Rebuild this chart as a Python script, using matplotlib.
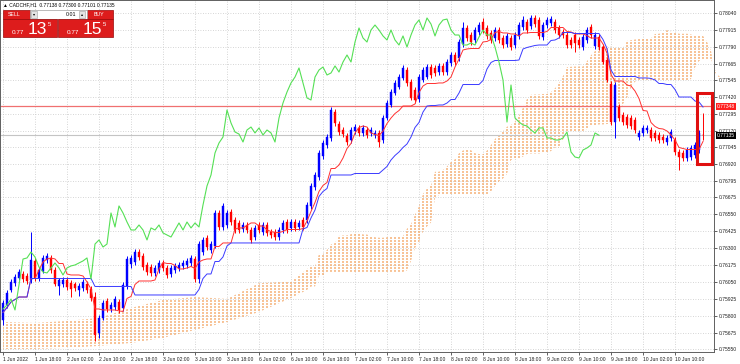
import numpy as np
import pandas as pd
import matplotlib
matplotlib.use('Agg')
import matplotlib.pyplot as plt
from matplotlib.patches import Rectangle

plt.rcParams['font.family'] = ['Liberation Sans', 'DejaVu Sans']

# CADCHF H1 candles, prices in points (1e-5)
open_pts = [
    75768, 75879, 75990, 76042, 76079, 76108, 76094, 76064, 76205, 76079,
    76131, 76212, 76227, 76138, 76020, 76034, 76064, 76042, 76034, 75990,
    76005, 76034, 75997, 75938, 75672, 75783, 75909, 75849, 75864, 75901,
    75857, 76020, 76182, 76197, 76271, 76242, 76175, 76160, 76116, 76138,
    76190, 76153, 76108, 76138, 76153, 76168, 76175, 76190, 76219, 76071,
    76271, 76375, 76286, 76316, 76560, 76456, 76471, 76567, 76508, 76486,
    76441, 76471, 76434, 76382, 76471, 76419, 76471, 76419, 76419, 76382,
    76434, 76493, 76449, 76493, 76456, 76508, 76508, 76612, 76752, 76826,
    76982, 77063, 77115, 77307, 77218, 77174, 77130, 77100, 77167, 77189,
    77152, 77174, 77152, 77137, 77152, 77100, 77263, 77359, 77448, 77492,
    77559, 77618, 77529, 77470, 77403, 77544, 77566, 77640, 77633, 77603,
    77648, 77603, 77670, 77729, 77707, 77810, 77929, 77877, 77840, 77899,
    77973, 77929, 77892, 77855, 77914, 77855, 77810, 77855, 77803, 77870,
    77936, 77973, 77944, 78003, 77988, 77862, 77951, 77966, 77973, 77929,
    77899, 77877, 77840, 77877, 77840, 77788, 77840, 77936, 77796, 77862,
    77788, 77692, 77514, 77233, 77344, 77285, 77270, 77263, 77248, 77122,
    77152, 77174, 77174, 77152, 77137, 77122, 77085, 77115, 77100, 77011,
    77004, 76967, 76974, 76989, 77026, 77138]
high_pts = [
    75916, 75990, 76071, 76108, 76145, 76131, 76116, 76419, 76227, 76160,
    76249, 76264, 76249, 76160, 76079, 76086, 76086, 76064, 76049, 76042,
    76071, 76057, 76020, 75975, 75805, 75916, 75931, 75901, 75946, 75923,
    76049, 76242, 76249, 76293, 76293, 76264, 76197, 76182, 76175, 76212,
    76212, 76175, 76175, 76190, 76197, 76212, 76227, 76249, 76242, 76353,
    76382, 76397, 76353, 76582, 76582, 76634, 76582, 76589, 76530, 76508,
    76493, 76493, 76456, 76471, 76493, 76493, 76493, 76441, 76441, 76456,
    76508, 76515, 76515, 76515, 76508, 76530, 76641, 76782, 76863, 77026,
    77100, 77144, 77344, 77329, 77241, 77196, 77152, 77196, 77218, 77211,
    77211, 77196, 77196, 77174, 77174, 77285, 77396, 77477, 77544, 77588,
    77655, 77640, 77551, 77492, 77588, 77640, 77662, 77662, 77655, 77670,
    77670, 77699, 77751, 77751, 77847, 77973, 77951, 77899, 77936, 77973,
    78003, 77951, 77914, 77936, 77936, 77877, 77892, 77877, 77899, 77973,
    78018, 77995, 78025, 78025, 78010, 77973, 78010, 78018, 77995, 77951,
    77921, 77899, 77862, 77899, 77862, 77884, 77936, 77958, 77899, 77884,
    77810, 77714, 77537, 77529, 77366, 77307, 77292, 77285, 77270, 77174,
    77211, 77211, 77196, 77174, 77159, 77144, 77137, 77181, 77122, 77033,
    77026, 77048, 77063, 77085, 77174, 77300]
low_pts = [
    75731, 75857, 75975, 76020, 76064, 76049, 76034, 76042, 76057, 76057,
    76116, 76190, 76116, 76020, 75953, 76012, 75990, 75938, 75983, 75946,
    75983, 75968, 75909, 75613, 75635, 75768, 75827, 75827, 75842, 75820,
    75835, 75997, 76153, 76175, 76212, 76138, 76101, 76094, 76094, 76116,
    76131, 76079, 76086, 76116, 76131, 76145, 76153, 76168, 76049, 76042,
    76249, 76286, 76264, 76301, 76434, 76434, 76449, 76471, 76412, 76412,
    76419, 76412, 76338, 76360, 76412, 76397, 76390, 76375, 76360, 76360,
    76412, 76412, 76427, 76427, 76434, 76434, 76486, 76589, 76730, 76804,
    76959, 77041, 77093, 77204, 77137, 77122, 77063, 77078, 77144, 77130,
    77130, 77115, 77130, 77115, 77048, 77078, 77248, 77344, 77433, 77477,
    77544, 77500, 77396, 77374, 77381, 77529, 77551, 77559, 77574, 77581,
    77581, 77581, 77648, 77655, 77685, 77788, 77833, 77803, 77818, 77877,
    77892, 77847, 77818, 77833, 77818, 77781, 77788, 77766, 77781, 77847,
    77914, 77892, 77921, 77936, 77847, 77840, 77929, 77944, 77892, 77855,
    77855, 77781, 77781, 77751, 77781, 77766, 77818, 77855, 77773, 77766,
    77662, 77529, 77211, 77115, 77241, 77211, 77189, 77181, 77152, 77100,
    77130, 77152, 77093, 77093, 77078, 77078, 77063, 77093, 76989, 76878,
    76945, 76945, 76952, 76967, 77004, 77101]
close_pts = [
    75894, 75968, 76049, 76086, 76123, 76071, 76057, 76212, 76079, 76138,
    76227, 76242, 76138, 76034, 76064, 76064, 76012, 75997, 76005, 76020,
    76049, 75990, 75931, 75657, 75783, 75894, 75849, 75879, 75923, 75842,
    76027, 76219, 76227, 76271, 76234, 76160, 76123, 76116, 76153, 76190,
    76153, 76101, 76153, 76168, 76175, 76190, 76205, 76227, 76071, 76330,
    76360, 76308, 76330, 76560, 76456, 76612, 76560, 76493, 76434, 76434,
    76471, 76434, 76360, 76449, 76434, 76471, 76412, 76397, 76382, 76434,
    76486, 76434, 76493, 76449, 76486, 76456, 76619, 76760, 76841, 77004,
    77078, 77122, 77322, 77226, 77159, 77144, 77085, 77174, 77196, 77152,
    77189, 77137, 77174, 77152, 77085, 77263, 77374, 77455, 77522, 77566,
    77633, 77522, 77411, 77396, 77566, 77618, 77640, 77581, 77596, 77648,
    77603, 77677, 77729, 77677, 77825, 77929, 77855, 77825, 77914, 77951,
    77914, 77870, 77840, 77914, 77840, 77803, 77870, 77788, 77877, 77951,
    77988, 77914, 78003, 77958, 77870, 77951, 77988, 77995, 77914, 77877,
    77877, 77803, 77803, 77818, 77803, 77862, 77914, 77877, 77877, 77788,
    77677, 77544, 77233, 77507, 77263, 77233, 77211, 77204, 77174, 77152,
    77189, 77189, 77115, 77115, 77100, 77100, 77115, 77159, 77011, 76974,
    76967, 77026, 77041, 77063, 77152, 77135]

# cloud edges on the left, where the history behind the 52-bar window is off screen
cloud_early_idx = [0, 8, 16, 24, 32, 40, 48, 56, 64, 72, 76]
cloud_early_a = [75753, 75746, 75761, 75783, 75857, 75916, 75938, 75924, 76040, 76053, 76144]
cloud_early_b = [75553, 75553, 75561, 75576, 75598, 75635, 75694, 75753, 75827, 75931, 75990]

time_labels = ['1 Jun 2022', '1 Jun 18:00', '2 Jun 02:00', '2 Jun 10:00', '2 Jun 18:00',
               '3 Jun 02:00', '3 Jun 10:00', '3 Jun 18:00', '6 Jun 02:00', '6 Jun 10:00',
               '6 Jun 18:00', '7 Jun 02:00', '7 Jun 10:00', '7 Jun 18:00', '8 Jun 02:00',
               '8 Jun 10:00', '8 Jun 18:00', '9 Jun 02:00', '9 Jun 10:00', '9 Jun 18:00',
               '10 Jun 02:00', '10 Jun 10:00']
price_ticks = [0.78040, 0.77915, 0.77790, 0.77665, 0.77545, 0.77420, 0.77295, 0.77170,
               0.77045, 0.76920, 0.76795, 0.76675, 0.76550, 0.76425, 0.76300, 0.76175,
               0.76050, 0.75925, 0.75800, 0.75675, 0.75550]
alert_price = 0.77348
bid, ask = 0.77135, 0.77155
box_top, box_bottom = 0.77448, 0.76922

o = np.array(open_pts) / 1e5
h = np.array(high_pts) / 1e5
l = np.array(low_pts) / 1e5
c = np.array(close_pts) / 1e5
n = len(c)
idx = np.arange(n)

# ichimoku 9/26/52
hs, ls = pd.Series(h), pd.Series(l)
tenkan = ((hs.rolling(9, min_periods=1).max() + ls.rolling(9, min_periods=1).min()) / 2).values
kijun = ((hs.rolling(26, min_periods=1).max() + ls.rolling(26, min_periods=1).min()) / 2).values
mid52 = ((hs.rolling(52, min_periods=1).max() + ls.rolling(52, min_periods=1).min()) / 2).values
span_a = (tenkan + kijun) / 2

cx = np.concatenate([cloud_early_idx, np.arange(51, n) + 26])
ca = np.concatenate([np.array(cloud_early_a) / 1e5, span_a[51:]])
cb = np.concatenate([np.array(cloud_early_b) / 1e5, mid52[51:]])

fig = plt.figure(figsize=(7.4, 3.64), dpi=100)
ax = fig.add_axes([0, 12 / 364, 714 / 740, 352 / 364])
ax.set_xlim(-0.75, 177.75)
ax.set_ylim(0.75531, 0.78136)

# cloud: dotted columns, one per bar, clipped to the area between the spans
cloud = ax.fill_between(cx, ca, cb, facecolor='none', lw=0, zorder=1)
gx, gy = np.meshgrid(np.arange(-1, 180), np.arange(0.75531, 0.78136, 0.000222))
dots = ax.scatter(gx.ravel(), gy.ravel(), s=0.55, marker='s', c='#f4a460', alpha=0.65,
                  lw=0, zorder=1)
dots.set_clip_path(cloud.get_paths()[0], ax.transData)

bull, bear = '#0000ff', '#ff0000'
cols = np.where(c >= o, bull, bear)
ax.vlines(idx, l, h, colors=cols, lw=0.7, zorder=3)
ax.bar(idx, np.abs(c - o), bottom=np.minimum(o, c), width=0.7, color=cols,
       edgecolor=cols, lw=0.3, zorder=3)

ax.plot(idx, tenkan, color='#ff3030', lw=0.7, zorder=4)
ax.plot(idx, kijun, color='#3a3aff', lw=0.7, zorder=4)
ax.plot(idx[:n - 26], c[26:], color='#55e055', lw=0.8, zorder=4)

ax.axhline(bid, color='#c4c4c4', lw=0.8, zorder=2)
ax.axhline(alert_price, color='#f07070', lw=0.9, zorder=2)
ax.add_patch(Rectangle((n - 2.5, box_bottom), 3.75, box_top - box_bottom, fill=False,
                       ec='#e01010', lw=2.2, zorder=5))

ax.set_xticks(np.arange(0, 8 * len(time_labels), 8))
ax.set_xticklabels(time_labels, ha='left', fontsize=3.6)
ax.yaxis.tick_right()
ax.set_yticks(price_ticks)
ax.set_yticklabels(['%.5f' % p for p in price_ticks], fontsize=3.6)
ax.tick_params(length=2, width=0.5, pad=1.5, colors='#202020')
ax.grid(True, color='#c8c8c8', linestyle=(0, (1, 2)), lw=0.6)
ax.set_axisbelow(True)
for s in ax.spines.values():
    s.set_linewidth(0.7)
    s.set_color('#606060')

# price labels on the axis
ax.annotate('%.5f' % alert_price, xy=(1.0, alert_price), xycoords=('axes fraction', 'data'),
            xytext=(2, 0), textcoords='offset points', fontsize=3.6, color='white', va='center',
            bbox=dict(boxstyle='square,pad=0.2', fc='#ff2020', ec='none'), annotation_clip=False)
ax.annotate('%.5f' % bid, xy=(1.0, bid), xycoords=('axes fraction', 'data'),
            xytext=(2, 0), textcoords='offset points', fontsize=3.6, color='white', va='center',
            bbox=dict(boxstyle='square,pad=0.2', fc='black', ec='none'), annotation_clip=False)

# header and one-click trading panel
ov = fig.add_axes([0, 0, 1, 1])
ov.set_xlim(0, 740)
ov.set_ylim(364, 0)
ov.axis('off')
ov.patch.set_alpha(0)
ov.text(3, 5, '\u25b2 CADCHF,H1  %.5f %.5f %.5f %.5f' % (o[-1], h[-1], l[-1], c[-1]),
        fontsize=3.5, va='center', family=['Liberation Sans', 'DejaVu Sans'])

red, dark = '#dd1c1c', '#9a0808'
ov.add_patch(Rectangle((3, 10), 27, 9, fc=red, ec=dark, lw=0.5))
ov.add_patch(Rectangle((87, 10), 26, 9, fc=red, ec=dark, lw=0.5))
ov.add_patch(Rectangle((30, 10), 57, 9, fc='white', ec='#a0a0a0', lw=0.5))
ov.add_patch(Rectangle((31, 11), 6, 7, fc='#e4e4e4', ec='#a0a0a0', lw=0.4))
ov.add_patch(Rectangle((79, 11), 6, 7, fc='#e4e4e4', ec='#a0a0a0', lw=0.4))
ov.text(34, 14.5, '\u25be', fontsize=3, ha='center', va='center', family='DejaVu Sans')
ov.text(82, 14.5, '\u25b4', fontsize=3, ha='center', va='center', family='DejaVu Sans')
ov.text(76, 14.5, '0.01', fontsize=3.8, ha='right', va='center')
ov.text(8, 14.5, 'SELL', fontsize=3.8, color='white', va='center')
ov.text(94, 14.5, 'BUY', fontsize=3.8, color='white', va='center')

for x0, w, price in [(3, 54, bid), (58, 55, ask)]:
    ov.add_patch(Rectangle((x0, 19), w, 18, fc=red, ec=dark, lw=0.5))
    s = '%.5f' % price
    ov.text(x0 + 9, 33, s[:4], fontsize=4.6, color='white', va='center')
    ov.text(x0 + 25, 29.5, s[4:6], fontsize=12.5, color='white', va='center')
    ov.text(x0 + 45, 24, s[6], fontsize=4.4, color='white', va='center')

plt.savefig('out.png', dpi=100)
